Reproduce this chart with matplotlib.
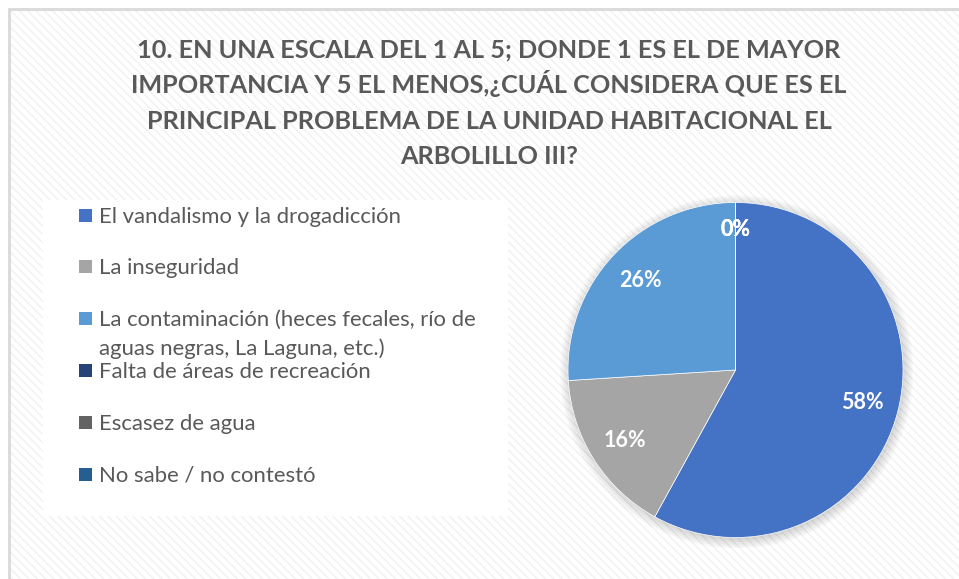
import matplotlib
matplotlib.use('Agg')
import matplotlib.pyplot as plt
from matplotlib.patches import Rectangle, Circle
import numpy as np

# ---------------- data ----------------
title_lines = [
    "10. EN UNA ESCALA DEL 1 AL 5; DONDE 1 ES EL DE MAYOR",
    "IMPORTANCIA Y 5 EL MENOS,¿CUÁL CONSIDERA QUE ES EL",
    "PRINCIPAL PROBLEMA DE LA UNIDAD HABITACIONAL EL",
    "ARBOLILLO III?",
]
categories = [
    "El vandalismo y la drogadicción",
    "La inseguridad",
    "La contaminación (heces fecales, río de\naguas negras, La Laguna, etc.)",
    "Falta de áreas de recreación",
    "Escasez de agua",
    "No sabe / no contestó",
]
values = [58, 16, 26, 0, 0, 0]
colors = ["#4472C4", "#A5A5A5", "#5B9BD5", "#264478", "#636363", "#255E91"]

W, H = 959, 579
TXT = "#595959"
FONT = ["Lato", "DejaVu Sans"]

plt.rcParams['hatch.linewidth'] = 1.0
fig = plt.figure(figsize=(W / 100, H / 100), dpi=100)
fig.patch.set_facecolor("white")

# background axes in pixel coords
bg = fig.add_axes([0, 0, 1, 1])
bg.set_xlim(0, W)
bg.set_ylim(H, 0)
bg.axis("off")

# hatched chart area
bg.add_patch(Rectangle((9, 9), W, H, facecolor="white", edgecolor="#F1F1F1",
                       hatch="\\\\\\\\", linewidth=0, zorder=0))
# border lines (left and top)
bg.plot([9, 9], [8, H], color="#D9D9D9", lw=2, zorder=1, solid_capstyle="butt")
bg.plot([8, W], [9, 9], color="#D9D9D9", lw=2, zorder=1, solid_capstyle="butt")
# white legend box
bg.add_patch(Rectangle((43, 200), 465, 316, facecolor="white", edgecolor="none", zorder=1))

renderer = fig.canvas.get_renderer()

def fit_size(text, target_w, weight, base=20):
    t = bg.text(0, 0, text, fontsize=base, family=FONT, fontweight=weight)
    w = t.get_window_extent(renderer).width
    t.remove()
    return base * target_w / w

# title
tsize = fit_size(title_lines[0], 704, "bold")
title_baselines = [57, 93, 129, 164]
for line, yb in zip(title_lines, title_baselines):
    bg.text(489, yb, line, fontsize=tsize, family=FONT, fontweight="bold",
            color=TXT, ha="center", va="baseline", zorder=5)

# legend
lsize = fit_size(categories[0], 302, "normal")
item_baselines = [223, 274, 326, 378, 430, 482]
for cat, col, yb in zip(categories, colors, item_baselines):
    bg.add_patch(Rectangle((79, yb - 14), 13, 13, facecolor=col, edgecolor="none", zorder=5))
    for k, sub in enumerate(cat.split("\n")):
        bg.text(99, yb + 29 * k, sub, fontsize=lsize, family=FONT, color=TXT,
                ha="left", va="baseline", zorder=5)

# pie
cx, cy, r = 735.5, 370, 167.5
ax = fig.add_axes([(cx - r) / W, (H - cy - r) / H, 2 * r / W, 2 * r / H])
ax.set_facecolor("none")
ax.patch.set_alpha(0)

# soft shadow
for k in range(8):
    ax.add_patch(Circle((0.008, -0.012), 1.0 + 0.008 * k, facecolor="black",
                        alpha=0.018, edgecolor="none", zorder=0))

wedges, texts, autotexts = ax.pie(
    values, colors=colors, startangle=90, counterclock=False,
    autopct=lambda p: f"{p:.0f}%", pctdistance=0.78,
    wedgeprops=dict(edgecolor="white", linewidth=0.5),
    textprops=dict(color="white", fontsize=15.5, fontweight="bold", family=FONT),
    radius=1.0,
)
for v, t in zip(values, autotexts):
    if v == 0:
        t.set_position((0, 0.84))
for w in wedges:
    w.set_zorder(2)
for t in autotexts:
    t.set_zorder(3)
ax.set_xlim(-1.06, 1.06)
ax.set_ylim(-1.06, 1.06)
ax.set_position([(cx - 1.06 * r) / W, (H - cy - 1.06 * r) / H, 2 * 1.06 * r / W, 2 * 1.06 * r / H])
ax.axis("off")

fig.savefig("out.png", dpi=100, facecolor="white")
